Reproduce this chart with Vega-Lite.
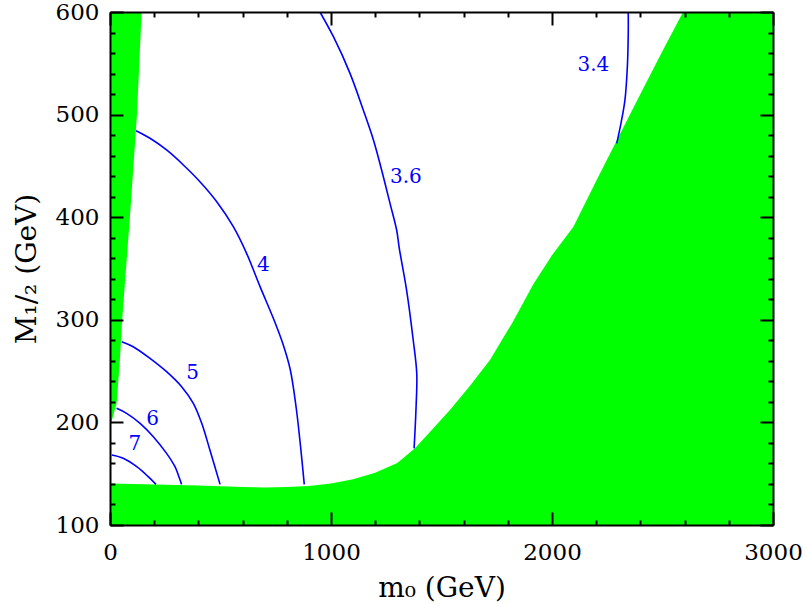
{
  "$schema": "https://vega.github.io/schema/vega-lite/v6.json",
  "width": 663,
  "height": 513,
  "autosize": {"type": "none"},
  "padding": {"left": 110, "top": 12, "right": 33, "bottom": 79},
  "config": {
    "view": {"stroke": null},
    "axis": {
      "grid": false,
      "domain": false,
      "labelFont": "DejaVu Serif",
      "titleFont": "DejaVu Serif",
      "labelColor": "black",
      "titleColor": "black",
      "tickColor": "black",
      "tickWidth": 2,
      "domainColor": "black",
      "domainWidth": 2,
      "labelFlush": false,
      "labelOverlap": false
    },
    "text": {"font": "DejaVu Serif"}
  },
  "datasets": {
    "bottom": [
      {"x": 0, "y": 140.5}, {"x": 100, "y": 140}, {"x": 200, "y": 139.5}, {"x": 400, "y": 138.5},
      {"x": 600, "y": 137}, {"x": 700, "y": 136.5}, {"x": 800, "y": 137}, {"x": 900, "y": 138},
      {"x": 1000, "y": 140.5}, {"x": 1100, "y": 144.5}, {"x": 1200, "y": 151}, {"x": 1300, "y": 160.5},
      {"x": 1380, "y": 174.7}, {"x": 1460, "y": 193.5}, {"x": 1540, "y": 212.5}, {"x": 1630, "y": 236},
      {"x": 1720, "y": 261}, {"x": 1820, "y": 297}, {"x": 1916, "y": 335}, {"x": 2000, "y": 363},
      {"x": 2097, "y": 390.7}, {"x": 2202, "y": 436.3}, {"x": 2294, "y": 475.3}, {"x": 2400, "y": 520},
      {"x": 2500, "y": 562}, {"x": 2593, "y": 600}, {"x": 3000, "y": 600}
    ],
    "left": [
      {"x": 0, "y": 196}, {"x": 10, "y": 203}, {"x": 30, "y": 219}, {"x": 45, "y": 262},
      {"x": 55, "y": 300}, {"x": 90, "y": 400}, {"x": 122, "y": 500}, {"x": 143, "y": 600}
    ],
    "contours": [
      {"level": "7", "i": 0, "x": 8, "y": 168.2}, {"level": "7", "i": 1, "x": 60, "y": 165},
      {"level": "7", "i": 2, "x": 121, "y": 156.8}, {"level": "7", "i": 3, "x": 173, "y": 147.1},
      {"level": "7", "i": 4, "x": 208, "y": 139.6},
      {"level": "6", "i": 0, "x": 30, "y": 213.7}, {"level": "6", "i": 1, "x": 75, "y": 208.8},
      {"level": "6", "i": 2, "x": 136, "y": 199.1}, {"level": "6", "i": 3, "x": 196, "y": 186.1},
      {"level": "6", "i": 4, "x": 256, "y": 169.8}, {"level": "6", "i": 5, "x": 294, "y": 156.8},
      {"level": "6", "i": 6, "x": 309, "y": 148.7}, {"level": "6", "i": 7, "x": 324, "y": 139.6},
      {"level": "5", "i": 0, "x": 53, "y": 278.7}, {"level": "5", "i": 1, "x": 105, "y": 273.8},
      {"level": "5", "i": 2, "x": 181, "y": 262.4}, {"level": "5", "i": 3, "x": 256, "y": 249.4},
      {"level": "5", "i": 4, "x": 324, "y": 234.8}, {"level": "5", "i": 5, "x": 377, "y": 218.6},
      {"level": "5", "i": 6, "x": 415, "y": 199.1}, {"level": "5", "i": 7, "x": 452, "y": 173.1},
      {"level": "5", "i": 8, "x": 498, "y": 139.6},
      {"level": "4", "i": 0, "x": 118, "y": 484.3}, {"level": "4", "i": 1, "x": 181, "y": 476.9},
      {"level": "4", "i": 2, "x": 256, "y": 465.5}, {"level": "4", "i": 3, "x": 332, "y": 450.9},
      {"level": "4", "i": 4, "x": 407, "y": 434.6}, {"level": "4", "i": 5, "x": 483, "y": 415.1},
      {"level": "4", "i": 6, "x": 558, "y": 390.8}, {"level": "4", "i": 7, "x": 618, "y": 364.8},
      {"level": "4", "i": 8, "x": 679, "y": 332.3}, {"level": "4", "i": 9, "x": 739, "y": 301.5},
      {"level": "4", "i": 10, "x": 780, "y": 278}, {"level": "4", "i": 11, "x": 815, "y": 252},
      {"level": "4", "i": 12, "x": 842, "y": 215}, {"level": "4", "i": 13, "x": 862, "y": 177},
      {"level": "4", "i": 14, "x": 879, "y": 139.6},
      {"level": "3.6", "i": 0, "x": 950, "y": 600}, {"level": "3.6", "i": 1, "x": 1011, "y": 575.9},
      {"level": "3.6", "i": 2, "x": 1086, "y": 540.2}, {"level": "3.6", "i": 3, "x": 1146, "y": 504.5},
      {"level": "3.6", "i": 4, "x": 1192, "y": 475.2}, {"level": "3.6", "i": 5, "x": 1229, "y": 446},
      {"level": "3.6", "i": 6, "x": 1267, "y": 413.5}, {"level": "3.6", "i": 7, "x": 1297, "y": 387.5},
      {"level": "3.6", "i": 8, "x": 1309, "y": 369.7}, {"level": "3.6", "i": 9, "x": 1342, "y": 329},
      {"level": "3.6", "i": 10, "x": 1372, "y": 280.3}, {"level": "3.6", "i": 11, "x": 1388, "y": 247.8},
      {"level": "3.6", "i": 12, "x": 1385, "y": 215.3}, {"level": "3.6", "i": 13, "x": 1376, "y": 174.7},
      {"level": "3.4", "i": 0, "x": 2345, "y": 600}, {"level": "3.4", "i": 1, "x": 2345, "y": 579},
      {"level": "3.4", "i": 2, "x": 2341, "y": 546.7}, {"level": "3.4", "i": 3, "x": 2330, "y": 514.2},
      {"level": "3.4", "i": 4, "x": 2312, "y": 491.5}, {"level": "3.4", "i": 5, "x": 2293, "y": 472}
    ],
    "labelsA": [
      {"label": "7", "x": 113, "y": 178.6},
      {"label": "6", "x": 193, "y": 203},
      {"label": "5", "x": 374, "y": 248.4},
      {"label": "4", "x": 694, "y": 353.4}
    ],
    "labelsB": [
      {"label": "3.6", "x": 1339, "y": 439.5},
      {"label": "3.4", "x": 2187, "y": 548.3}
    ]
  },
  "layer": [
    {
      "data": {"name": "bottom"},
      "mark": {"type": "area", "color": "#00ff00", "clip": true},
      "encoding": {
        "x": {
          "field": "x", "type": "quantitative",
          "scale": {"domain": [0, 3000], "nice": false, "zero": false},
          "axis": {
            "orient": "bottom", "values": [0, 1000, 2000, 3000], "ticks": false, "zindex": 2,
            "labelFontSize": 23, "labelPadding": 16, "format": "d",
            "title": "m₀  (GeV)", "titleFontSize": 28, "titleFontWeight": "normal", "titlePadding": 10
          }
        },
        "y": {
          "field": "y", "type": "quantitative",
          "scale": {"domain": [100, 600], "nice": false, "zero": false},
          "axis": {
            "orient": "left", "values": [100, 200, 300, 400, 500, 600], "ticks": false, "zindex": 2,
            "labelFontSize": 23, "labelPadding": 11, "format": "d",
            "title": "M₁/₂  (GeV)", "titleFontSize": 28, "titleFontWeight": "normal", "titlePadding": 14
          }
        },
        "y2": {"datum": 100}
      }
    },
    {
      "data": {"name": "left"},
      "mark": {"type": "area", "color": "#00ff00", "clip": true},
      "encoding": {
        "x": {
          "field": "x", "type": "quantitative",
          "axis": {"orient": "bottom", "values": [0, 1000, 2000, 3000], "labels": false, "tickSize": -13, "domain": true, "title": null, "zindex": 2}
        },
        "y": {
          "field": "y", "type": "quantitative",
          "axis": {"orient": "left", "values": [100, 200, 300, 400, 500, 600], "labels": false, "tickSize": -13, "domain": true, "title": null, "zindex": 2}
        },
        "y2": {"datum": 600}
      }
    },
    {
      "data": {"name": "contours"},
      "mark": {"type": "line", "color": "#0000ff", "strokeWidth": 1.6, "clip": true, "interpolate": "catmull-rom"},
      "encoding": {
        "x": {
          "field": "x", "type": "quantitative",
          "axis": {"orient": "top", "values": [0, 1000, 2000, 3000], "labels": false, "tickSize": -13, "domain": true, "title": null, "zindex": 2}
        },
        "y": {
          "field": "y", "type": "quantitative",
          "axis": {"orient": "right", "values": [100, 200, 300, 400, 500, 600], "labels": false, "tickSize": -13, "domain": true, "title": null, "zindex": 2}
        },
        "detail": {"field": "level"},
        "order": {"field": "i", "type": "quantitative"}
      }
    },
    {
      "data": {"name": "labelsA"},
      "mark": {"type": "text", "color": "#0000ff", "fontSize": 20, "align": "center", "baseline": "middle"},
      "encoding": {
        "x": {
          "field": "x", "type": "quantitative",
          "axis": {"orient": "top", "values": [200, 400, 600, 800, 1200, 1400, 1600, 1800, 2200, 2400, 2600, 2800], "labels": false, "tickSize": -5, "title": null, "zindex": 2}
        },
        "y": {
          "field": "y", "type": "quantitative",
          "axis": {"orient": "right", "values": [120, 140, 160, 180, 220, 240, 260, 280, 320, 340, 360, 380, 420, 440, 460, 480, 520, 540, 560, 580], "labels": false, "tickSize": -5, "title": null, "zindex": 2}
        },
        "text": {"field": "label"}
      }
    },
    {
      "data": {"name": "labelsB"},
      "mark": {"type": "text", "color": "#0000ff", "fontSize": 20, "align": "center", "baseline": "middle"},
      "encoding": {
        "x": {
          "field": "x", "type": "quantitative",
          "axis": {"orient": "bottom", "values": [200, 400, 600, 800, 1200, 1400, 1600, 1800, 2200, 2400, 2600, 2800], "labels": false, "tickSize": -5, "title": null, "zindex": 2}
        },
        "y": {
          "field": "y", "type": "quantitative",
          "axis": {"orient": "left", "values": [120, 140, 160, 180, 220, 240, 260, 280, 320, 340, 360, 380, 420, 440, 460, 480, 520, 540, 560, 580], "labels": false, "tickSize": -5, "title": null, "zindex": 2}
        },
        "text": {"field": "label"}
      }
    }
  ],
  "resolve": {"axis": {"x": "independent", "y": "independent"}}
}
